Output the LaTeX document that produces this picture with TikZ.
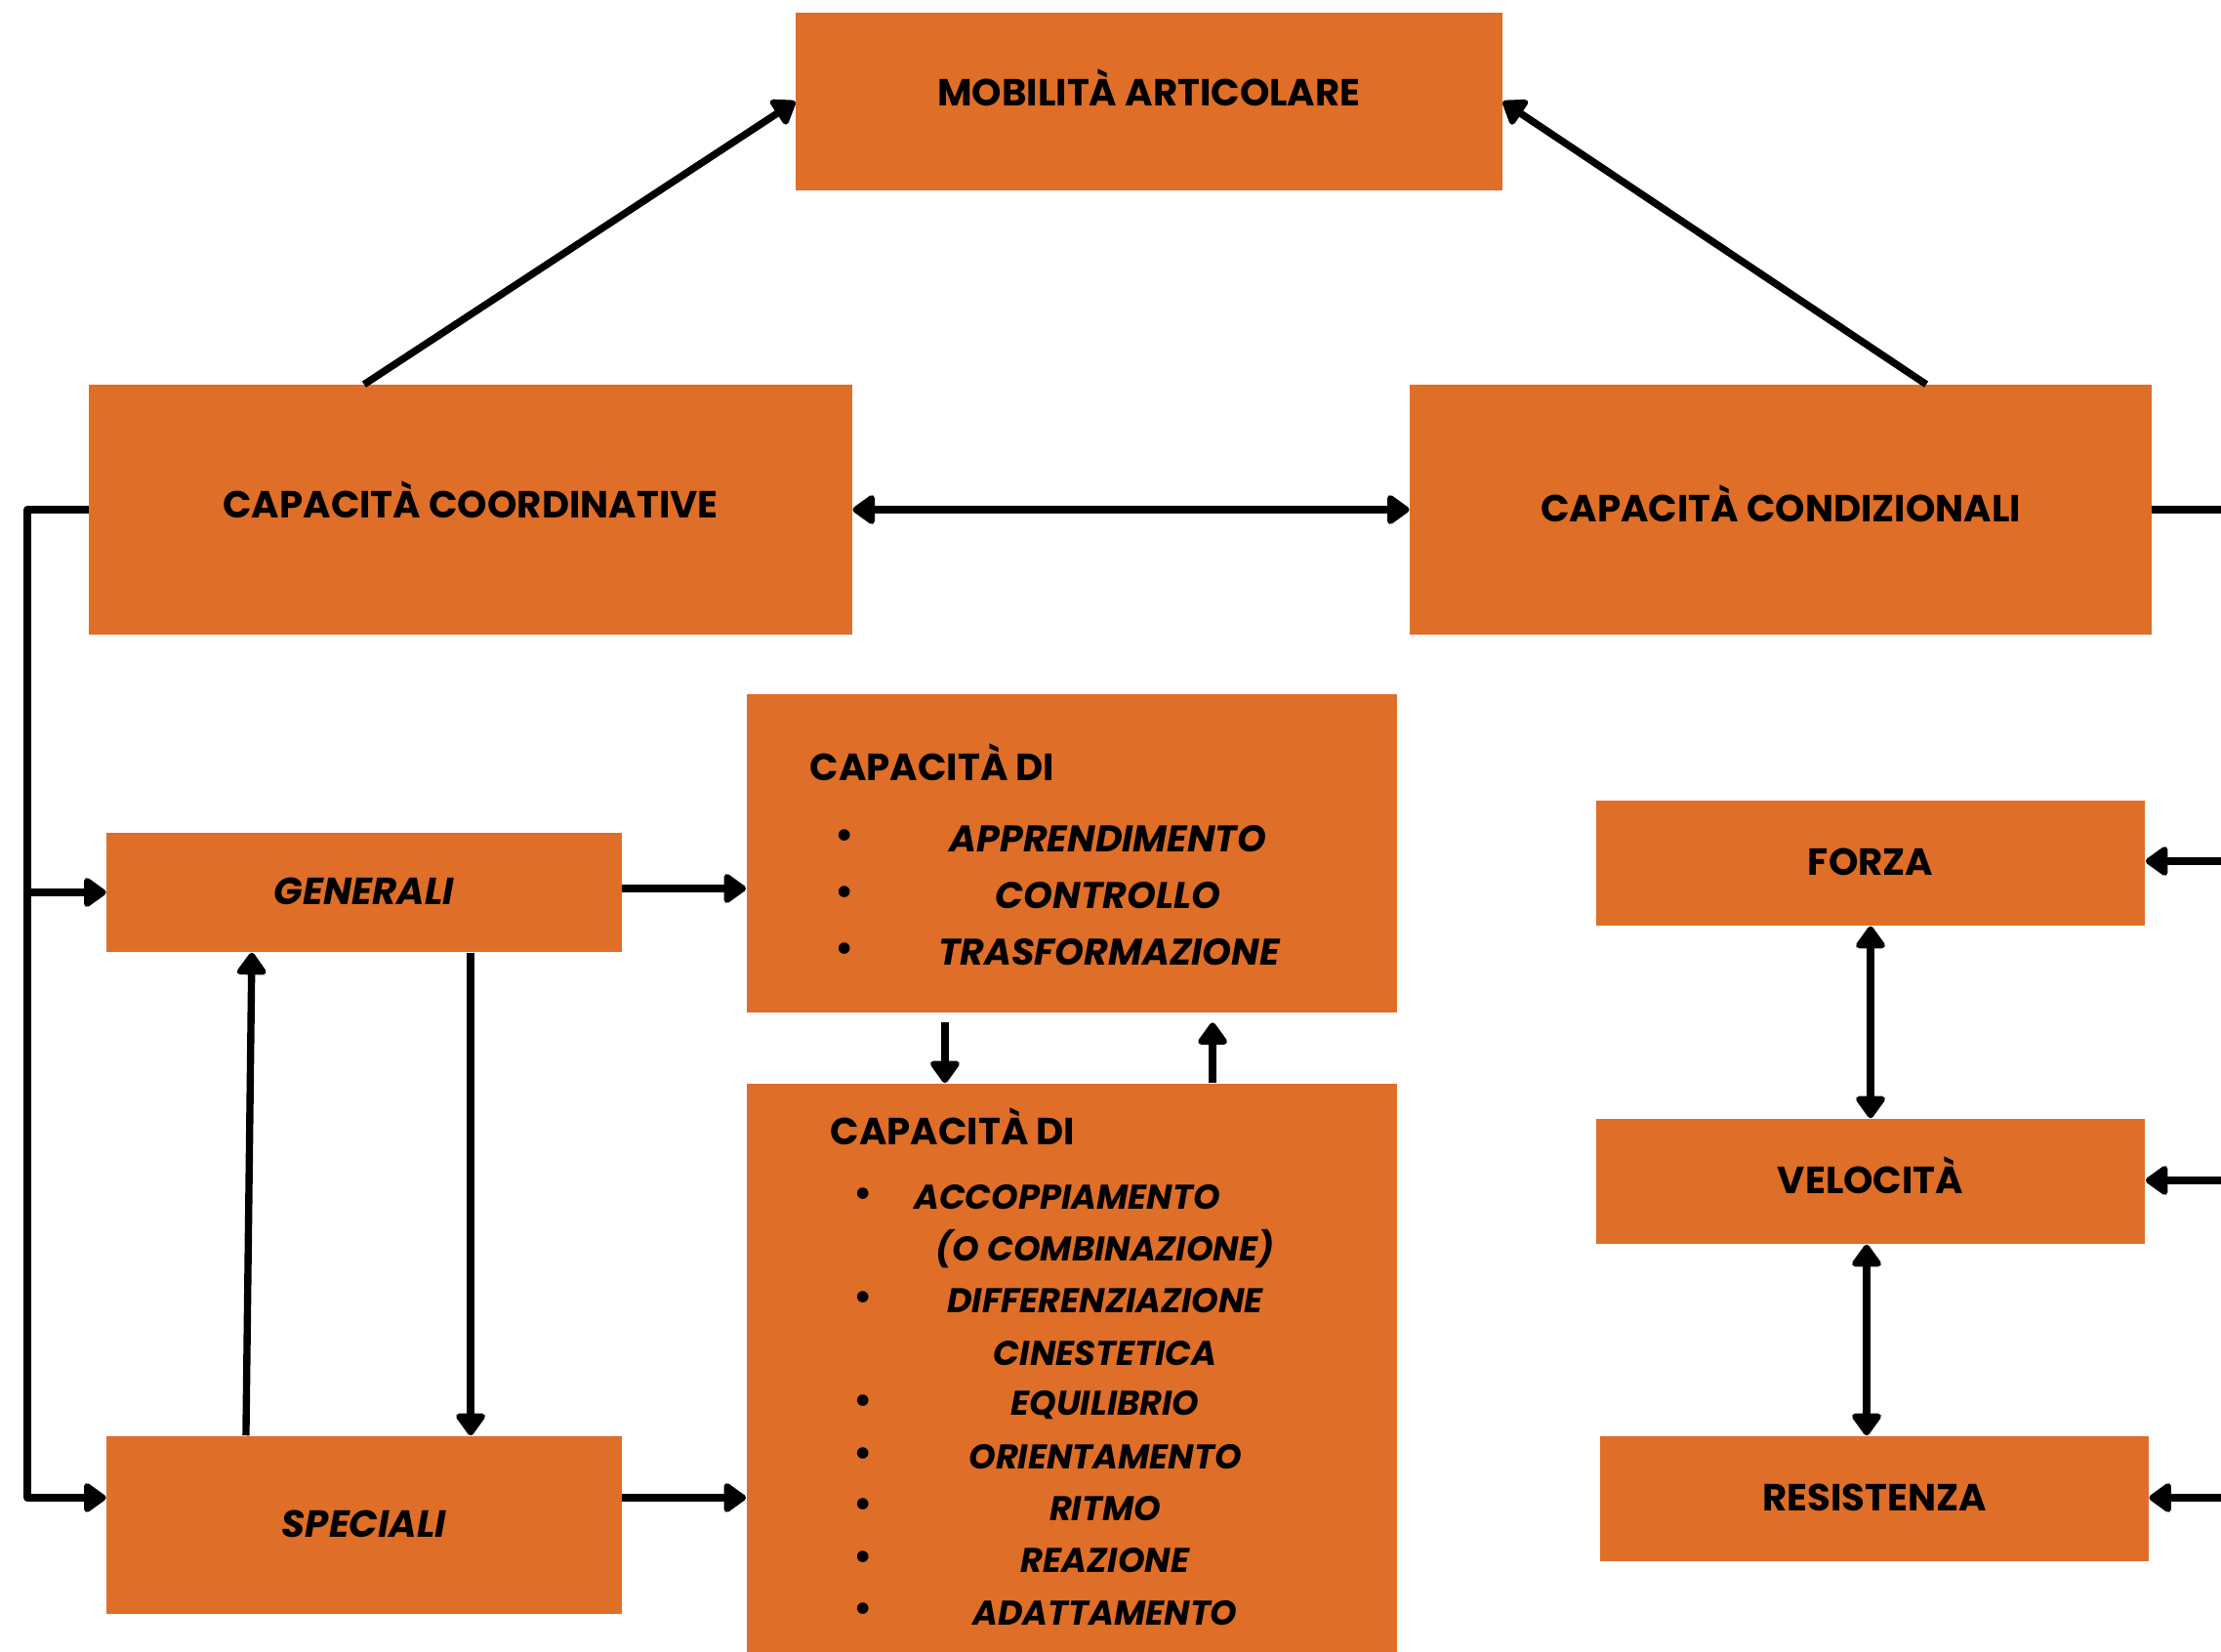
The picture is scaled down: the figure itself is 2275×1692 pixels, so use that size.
\documentclass[tikz,border=0pt]{standalone}
\usepackage{fontspec}
\setmainfont{Poppins}
\usetikzlibrary{arrows.meta}
\definecolor{boxorange}{RGB}{222,110,40}
\newcommand{\txtfont}{\fontsize{11}{13}\selectfont\bfseries}
\tikzset{
  box/.style={fill=boxorange, inner sep=0pt, font=\txtfont, text height=0.7em, text depth=0pt},
  link/.style={line width=2.1pt, line join=round},
  arr/.style={link, -{Triangle[length=0.25cm,width=0.34cm,round]}},
  dbl/.style={link, {Triangle[length=0.25cm,width=0.34cm,round]}-{Triangle[length=0.25cm,width=0.34cm,round]}},
  item/.style={font=\fontsize{10.8}{13}\selectfont\bfseries\itshape, inner sep=0pt},
  subitem/.style={font=\fontsize{10}{12}\selectfont\bfseries\itshape, inner sep=0pt},
  dot/.style={font=\txtfont, inner sep=0pt}
}

\begin{document}
\begin{tikzpicture}[x=0.01cm, y=-0.01cm]
\useasboundingbox (0,0) rectangle (2275,1692);
\node[box, minimum width=7.23cm, minimum height=1.81cm, text depth=0.16cm] (mob) at (1177,104) {MOBILITÀ ARTICOLARE};
\node[box, minimum width=7.81cm, minimum height=2.55cm, text depth=0.07cm] (coord) at (482,522) {CAPACITÀ COORDINATIVE};
\node[box, minimum width=7.59cm, minimum height=2.55cm] (cond) at (1824,522) {CAPACITÀ CONDIZIONALI};
\node[box, minimum width=5.27cm, minimum height=1.22cm, font=\txtfont\itshape] (gen) at (373,914) {GENERALI};
\node[box, minimum width=5.27cm, minimum height=1.82cm, font=\txtfont\itshape] (spec) at (373,1562) {SPECIALI};
\node[box, minimum width=6.66cm, minimum height=3.25cm] (capone) at (1098,874) {};
\node[box, minimum width=6.66cm, minimum height=5.82cm] (captwo) at (1098,1401) {};
\node[box, minimum width=5.62cm, minimum height=1.28cm] (forza) at (1916,884) {FORZA};
\node[box, minimum width=5.62cm, minimum height=1.28cm] (velo) at (1916,1210) {VELOCITÀ};
\node[box, minimum width=5.61cm, minimum height=1.28cm] (resi) at (1920,1535) {RESISTENZA};

\node[dot, anchor=west] (onehead) at (829,781) {CAPACITÀ DI};
\foreach \y [count=\i] in {859,917,975} \node[dot] (ob\i) at (865,\y) {•};
\node[item] (appr) at (1135,859) {APPRENDIMENTO};
\node[item] (contr) at (1135,917) {CONTROLLO};
\node[item] (trasf) at (1136,975) {TRASFORMAZIONE};

\node[dot, anchor=west] (twohead) at (850,1154) {CAPACITÀ DI};
\foreach \y [count=\i] in {1226,1332,1438,1492,1544,1598,1651} \node[dot] (tb\i) at (884,\y) {•};
\node[subitem] (accop) at (1093,1226) {ACCOPPIAMENTO};
\node[subitem] (combi) at (1132,1279) {(O COMBINAZIONE)};
\node[subitem] (diff) at (1132,1332) {DIFFERENZIAZIONE};
\node[subitem] (cine) at (1132,1386) {CINESTETICA};
\node[subitem] (equi) at (1132,1439) {EQUILIBRIO};
\node[subitem] (orie) at (1132,1492) {ORIENTAMENTO};
\node[subitem] (ritmo) at (1132,1545) {RITMO};
\node[subitem] (reaz) at (1132,1598) {REAZIONE};
\node[subitem] (adat) at (1132,1652) {ADATTAMENTO};

\coordinate (branch) at (28,914);
\coordinate (condout) at (2275,522);
\coordinate (inforza) at (2275,882);
\coordinate (invelo) at (2275,1209);
\coordinate (inresi) at (2275,1534);

\draw[arr] ([xshift=-1.09cm]coord.north) -- (mob.west);
\draw[arr] ([xshift=1.49cm]cond.north) -- (mob.east);
\draw[dbl] (coord.east) -- (cond.west);
\draw[arr] (coord.west) -- (coord.west -| branch) |- ([yshift=0.28cm]spec.west);
\draw[arr] (branch) -- (gen.west);
\draw[arr] ([yshift=0.04cm]gen.east) -- ([yshift=0.04cm]gen.east -| capone.west);
\draw[arr] ([yshift=0.28cm]spec.east) -- ([yshift=0.28cm]spec.east -| captwo.west);
\draw[arr] ([xshift=1.09cm]gen.south) -- ([xshift=1.09cm]spec.north);
\draw[arr] ([xshift=-1.21cm]spec.north) -- ([xshift=-1.15cm]gen.south);
\draw[arr] ([xshift=-1.3cm,yshift=-0.1cm]capone.south) -- ([xshift=-1.3cm]captwo.north);
\draw[arr] ([xshift=1.44cm]captwo.north) -- ([xshift=1.44cm,yshift=-0.1cm]capone.south);
\draw[dbl] (forza.south) -- (velo.north);
\draw[dbl] ([xshift=-0.04cm]velo.south) -- ([xshift=-0.04cm]velo.south |- resi.north);
\draw[link] (cond.east) -- (condout);
\draw[arr] (inforza) -- (inforza -| forza.east);
\draw[arr] (invelo) -- (invelo -| velo.east);
\draw[arr] (inresi) -- (inresi -| resi.east);
\end{tikzpicture}
\end{document}
